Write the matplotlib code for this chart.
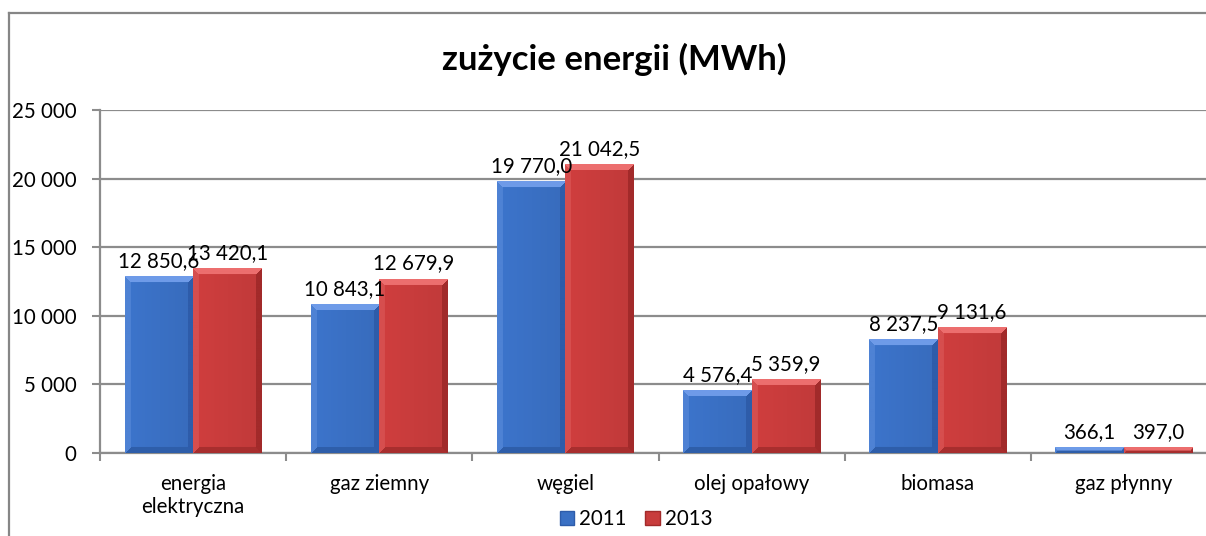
import matplotlib.pyplot as plt
import numpy as np
from matplotlib.patches import Patch
from matplotlib.lines import Line2D
from matplotlib.ticker import FuncFormatter

categories = ['energia\nelektryczna', 'gaz ziemny', 'węgiel', 'olej opałowy', 'biomasa', 'gaz płynny']
values_2011 = [12850.6, 10843.1, 19770.0, 4576.4, 8237.5, 366.1]
values_2013 = [13420.1, 12679.9, 21042.5, 5359.9, 9131.6, 397.0]
series_names = ['2011', '2013']

plt.rcParams['font.family'] = ['Lato', 'DejaVu Sans']

W, H = 1206, 536
fig = plt.figure(figsize=(W / 100, H / 100), dpi=100)
# plot area runs past the right edge, like the cropped original
ax = fig.add_axes([100 / W, 1 - 453 / H, 1117 / W, 343 / H])

x = np.arange(len(categories))
bw = 0.368
ax.set_xlim(-0.5, len(categories) - 0.5)
ax.set_ylim(0, 25000)

# colours: body, top, left, right, bottom
blue = [(58, 112, 196), (110, 155, 232), (78, 130, 212), (46, 92, 170), (46, 94, 170)]
red = [(200, 60, 60), (236, 110, 110), (214, 78, 78), (162, 42, 42), (168, 46, 46)]


def bevel(wpx, hpx, cols, b=6):
    # excel-ish bevelled bar face, built in pixel units
    wpx = max(int(round(wpx)), 2)
    hpx = max(int(round(hpx)), 2)
    cols = np.array(cols, dtype=float) / 255
    img = np.empty((hpx, wpx, 3))
    ii, jj = np.mgrid[0:hpx, 0:wpx]
    d = np.stack([ii, jj, wpx - 1 - jj, hpx - 1 - ii])
    which = d.argmin(axis=0)
    mind = d.min(axis=0)
    img[:] = cols[0]
    img *= (1.04 - 0.08 * jj / wpx)[..., None]
    for k, c in zip(range(4), cols[1:]):
        img[(which == k) & (mind < b)] = c
    return np.clip(img, 0, 1)


fig.canvas.draw()
px_per_x = ax.transData.transform((1, 0))[0] - ax.transData.transform((0, 0))[0]
px_per_y = (ax.transData.transform((0, 1000))[1] - ax.transData.transform((0, 0))[1]) / 1000

for vals, off, cols in [(values_2011, -bw / 2, blue), (values_2013, bw / 2, red)]:
    bars = ax.bar(x + off, vals, bw, color='none', edgecolor='none', zorder=3)
    for b, v in zip(bars, vals):
        x0 = b.get_x()
        img = bevel(bw * px_per_x, v * px_per_y, cols)
        ax.imshow(img, extent=(x0, x0 + bw, 0, v), aspect='auto', origin='upper',
                  interpolation='bilinear', zorder=3)
        lab = f'{v:,.1f}'.replace(',', ' ').replace('.', ',')
        ax.annotate(lab, (x0 + bw / 2, v), xytext=(0, 4), textcoords='offset points',
                    ha='center', va='bottom', fontsize=14.8, color='black', zorder=4)

ax.set_xlim(-0.5, len(categories) - 0.5)
ax.set_ylim(0, 25000)

ax.set_yticks(np.arange(0, 25001, 5000))
ax.yaxis.set_major_formatter(FuncFormatter(lambda v, p: f'{int(v):,}'.replace(',', ' ')))
ax.yaxis.grid(True, color='#8c8c8c', linewidth=1.6, zorder=0)
ax.set_axisbelow(True)

ax.set_xticks(np.arange(-0.5, len(categories), 1.0))
ax.set_xticklabels([])
ax.set_xticks(x, minor=True)
ax.set_xticklabels(categories, minor=True)
ax.tick_params(axis='x', which='minor', length=0, pad=15, labelsize=14.8)
ax.tick_params(axis='x', which='major', length=6, color='#8c8c8c', width=1.5)
ax.tick_params(axis='y', length=6, color='#8c8c8c', width=1.5, pad=11, labelsize=14.8)

for s in ['top', 'right']:
    ax.spines[s].set_visible(False)
for s in ['left', 'bottom']:
    ax.spines[s].set_color('#8c8c8c')
    ax.spines[s].set_linewidth(1.6)

fig.text(614 / W, 1 - 70 / H, 'zużycie energii (MWh)', ha='center', va='baseline',
         fontsize=25, fontweight='bold')

handles = [Patch(facecolor=np.array(blue[0]) / 255, edgecolor=np.array(blue[3]) / 255),
           Patch(facecolor=np.array(red[0]) / 255, edgecolor=np.array(red[3]) / 255)]
fig.legend(handles, series_names, loc='center', bbox_to_anchor=(636 / W, 1 - 519 / H),
           ncol=2, frameon=False, fontsize=14.8, handlelength=0.7, handleheight=0.7,
           handletextpad=0.25, columnspacing=0.9, borderpad=0)

# outer chart border: only the top and left edges fall inside the crop
bx, by = 8.5 / W, 1 - 13 / H
fig.add_artist(Line2D([bx, 1.01], [by, by], transform=fig.transFigure,
                      color='#868686', linewidth=1.6))
fig.add_artist(Line2D([bx, bx], [-0.01, by], transform=fig.transFigure,
                      color='#868686', linewidth=1.6))

fig.savefig('out.png', dpi=100)
